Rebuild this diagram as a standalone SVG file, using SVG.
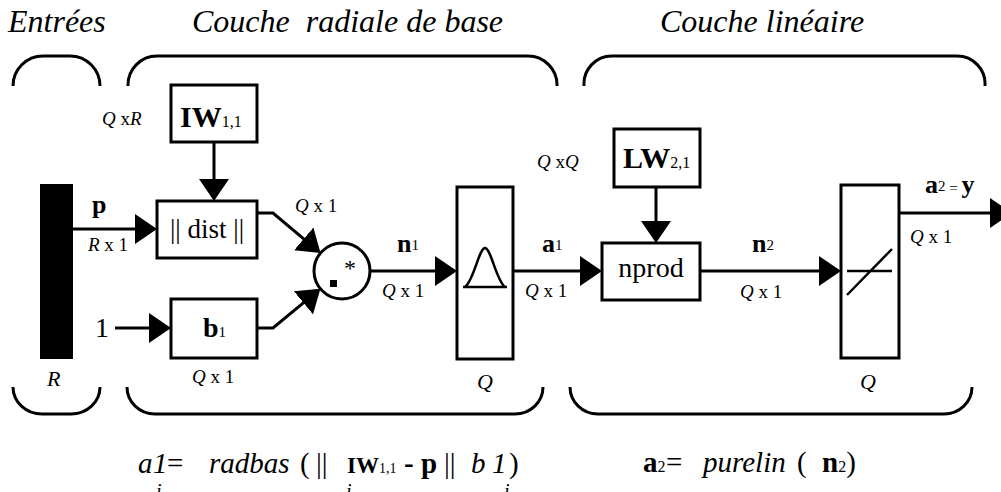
<svg xmlns="http://www.w3.org/2000/svg" width="1001" height="492" viewBox="0 0 1001 492" font-family="'Liberation Serif', 'DejaVu Serif', serif">
<style>
  text { font-family: "Liberation Serif", "DejaVu Serif", serif; fill: #000; }
  .title { font-size: 32px; font-style: italic; }
  .dim { font-size: 19px; }
  .q { font-style: italic; }
  .bold { font-size: 26px; font-weight: bold; }
  .sup { font-size: 15px; font-weight: normal; }
  .box { fill: #fff; stroke: #000; stroke-width: 3; }
  .brk { fill: none; stroke: #000; stroke-width: 3; }
  .wire { fill: none; stroke: #000; stroke-width: 3; }
  .eq { font-size: 29px; }
</style>
<defs>
  <marker id="ah" markerUnits="userSpaceOnUse" markerWidth="22" markerHeight="30" viewBox="0 0 22 30" refX="12" refY="15" orient="auto">
    <path d="M0,0 L22,15 L0,30 z" fill="#000"/>
  </marker>
</defs>

<g id="titles">
  <text class="title" x="8" y="32">Entrées</text>
  <text class="title" x="192" y="32" xml:space="preserve">Couche  radiale de base</text>
  <text class="title" x="660" y="32">Couche linéaire</text>
</g>

<g id="brackets">
  <path class="brk" d="M13,86 A30,30 0 0 1 43,56 H70 A30,30 0 0 1 100,86"/>
  <path class="brk" d="M128,86 A29,29 0 0 1 157,56 H528 A29,29 0 0 1 557,86"/>
  <path class="brk" d="M584,86 A28,28 0 0 1 612,56 H957 A28,28 0 0 1 985,86"/>
  <path class="brk" d="M13,387 A29,27 0 0 0 42,414 H71 A29,27 0 0 0 100,387"/>
  <path class="brk" d="M127,387 A28,27 0 0 0 155,414 H515 A28,27 0 0 0 543,387"/>
  <path class="brk" d="M570,387 A28,27 0 0 0 598,414 H944 A28,27 0 0 0 972,387"/>
</g>

<g id="connectors">
  <path class="wire" d="M73,229 H147" marker-end="url(#ah)"/>
  <path class="wire" d="M214,142 V191" marker-end="url(#ah)"/>
  <path class="wire" d="M115,328 H161" marker-end="url(#ah)"/>
  <path class="wire" d="M257,213 H273 L312.9,246.6" marker-end="url(#ah)"/>
  <path class="wire" d="M257,328 H273 L312.7,295.2" marker-end="url(#ah)"/>
  <path class="wire" d="M370,271 H447" marker-end="url(#ah)"/>
  <path class="wire" d="M513,271 H592" marker-end="url(#ah)"/>
  <path class="wire" d="M656,187 V233" marker-end="url(#ah)"/>
  <path class="wire" d="M700,271 H831" marker-end="url(#ah)"/>
  <path class="wire" d="M899,213 H1002" marker-end="url(#ah)"/>
</g>

<g id="input">
  <rect x="40" y="184" width="33" height="175" fill="#000"/>
  <text x="47" y="386" font-size="22" font-style="italic">R</text>
</g>

<g id="iw">
  <rect class="box" x="171" y="85" width="86" height="57"/>
  <text x="180" y="127" font-size="30" font-weight="bold">IW<tspan font-size="16" font-weight="normal">1,1</tspan></text>
</g>

<g id="dist">
  <rect class="box" x="157" y="201" width="100" height="57"/>
  <text x="207" y="238" font-size="27" text-anchor="middle">|| dist ||</text>
</g>

<g id="bias">
  <rect class="box" x="171" y="299" width="86" height="59"/>
  <text x="203" y="337" font-size="28" font-weight="bold">b<tspan font-size="15" font-weight="normal">1</tspan></text>
  <text x="95" y="337" font-size="28">1</text>
</g>

<g id="mult">
  <circle cx="342" cy="271" r="28" fill="#fff" stroke="#000" stroke-width="3"/>
  <text x="344" y="276" font-size="24">*</text>
  <rect x="330" y="280" width="7" height="7" fill="#000"/>
</g>

<g id="radbas">
  <rect class="box" x="457" y="187" width="56" height="172"/>
  <path fill="none" stroke="#000" stroke-width="2.5" d="M463,287 H507 M465,287 C474,280 479,248 485,248 C491,248 496,280 505,287"/>
  <text x="477" y="389" font-size="22" font-style="italic">Q</text>
</g>

<g id="lw">
  <rect class="box" x="614" y="129" width="86" height="58"/>
  <text x="623" y="168" font-size="30" font-weight="bold">LW<tspan font-size="16" font-weight="normal">2,1</tspan></text>
</g>

<g id="nprod">
  <rect class="box" x="602" y="243" width="98" height="57"/>
  <text x="651" y="277" font-size="28" text-anchor="middle">nprod</text>
</g>

<g id="purelin">
  <rect class="box" x="841" y="185" width="58" height="173"/>
  <path fill="none" stroke="#000" stroke-width="2.5" d="M847,271 H892 M847,295 L892,249"/>
  <text x="860" y="389" font-size="22" font-style="italic">Q</text>
</g>

<g id="labels">
  <text class="bold" x="92" y="213">p</text>
  <text class="dim" x="88" y="251" font-size="16"><tspan class="q">R</tspan> x 1</text>
  <text class="dim" x="102" y="125"><tspan class="q">Q</tspan> x<tspan class="q">R</tspan></text>
  <text class="dim" x="295" y="212"><tspan class="q">Q</tspan> x 1</text>
  <text class="dim" x="192" y="383"><tspan class="q">Q</tspan> x 1</text>
  <text class="bold" x="397" y="252">n<tspan class="sup" dy="-2">1</tspan></text>
  <text class="dim" x="382" y="297"><tspan class="q">Q</tspan> x 1</text>
  <text class="bold" x="542" y="252">a<tspan class="sup" dy="-2">1</tspan></text>
  <text class="dim" x="525" y="297"><tspan class="q">Q</tspan> x 1</text>
  <text class="dim" x="537" y="168"><tspan class="q">Q</tspan> x<tspan class="q">Q</tspan></text>
  <text class="bold" x="752" y="252">n<tspan class="sup" dy="-2">2</tspan></text>
  <text class="dim" x="740" y="298"><tspan class="q">Q</tspan> x 1</text>
  <text class="bold" x="925" y="193">a<tspan class="sup" dy="-2">2</tspan><tspan class="sup" dy="2"> = </tspan>y</text>
  <text class="dim" x="910" y="243"><tspan class="q">Q</tspan> x 1</text>
</g>

<g id="equations">
  <text class="eq" y="473"><tspan x="138" font-style="italic">a</tspan><tspan x="153" font-style="italic">1</tspan><tspan x="167">=</tspan><tspan x="209" font-style="italic">radbas</tspan><tspan x="300">(</tspan><tspan x="316">||</tspan><tspan x="347" font-weight="bold" font-size="23">IW</tspan><tspan font-size="14">1,1</tspan><tspan x="404" font-weight="bold">-</tspan><tspan x="421" font-weight="bold">p</tspan><tspan x="444">||</tspan><tspan x="471" font-style="italic">b</tspan><tspan x="492" font-style="italic">1</tspan><tspan x="509">)</tspan></text>
  <text font-size="20" font-style="italic" y="498"><tspan x="156">i</tspan><tspan x="346">i</tspan><tspan x="504">i</tspan></text>
  <text class="eq" y="472"><tspan x="643" font-weight="bold">a</tspan><tspan font-size="16">2</tspan><tspan x="666">=</tspan><tspan x="703" font-style="italic">purelin</tspan><tspan x="797">(</tspan><tspan x="822" font-weight="bold">n</tspan><tspan font-size="16">2</tspan><tspan>)</tspan></text>
</g>
</svg>
